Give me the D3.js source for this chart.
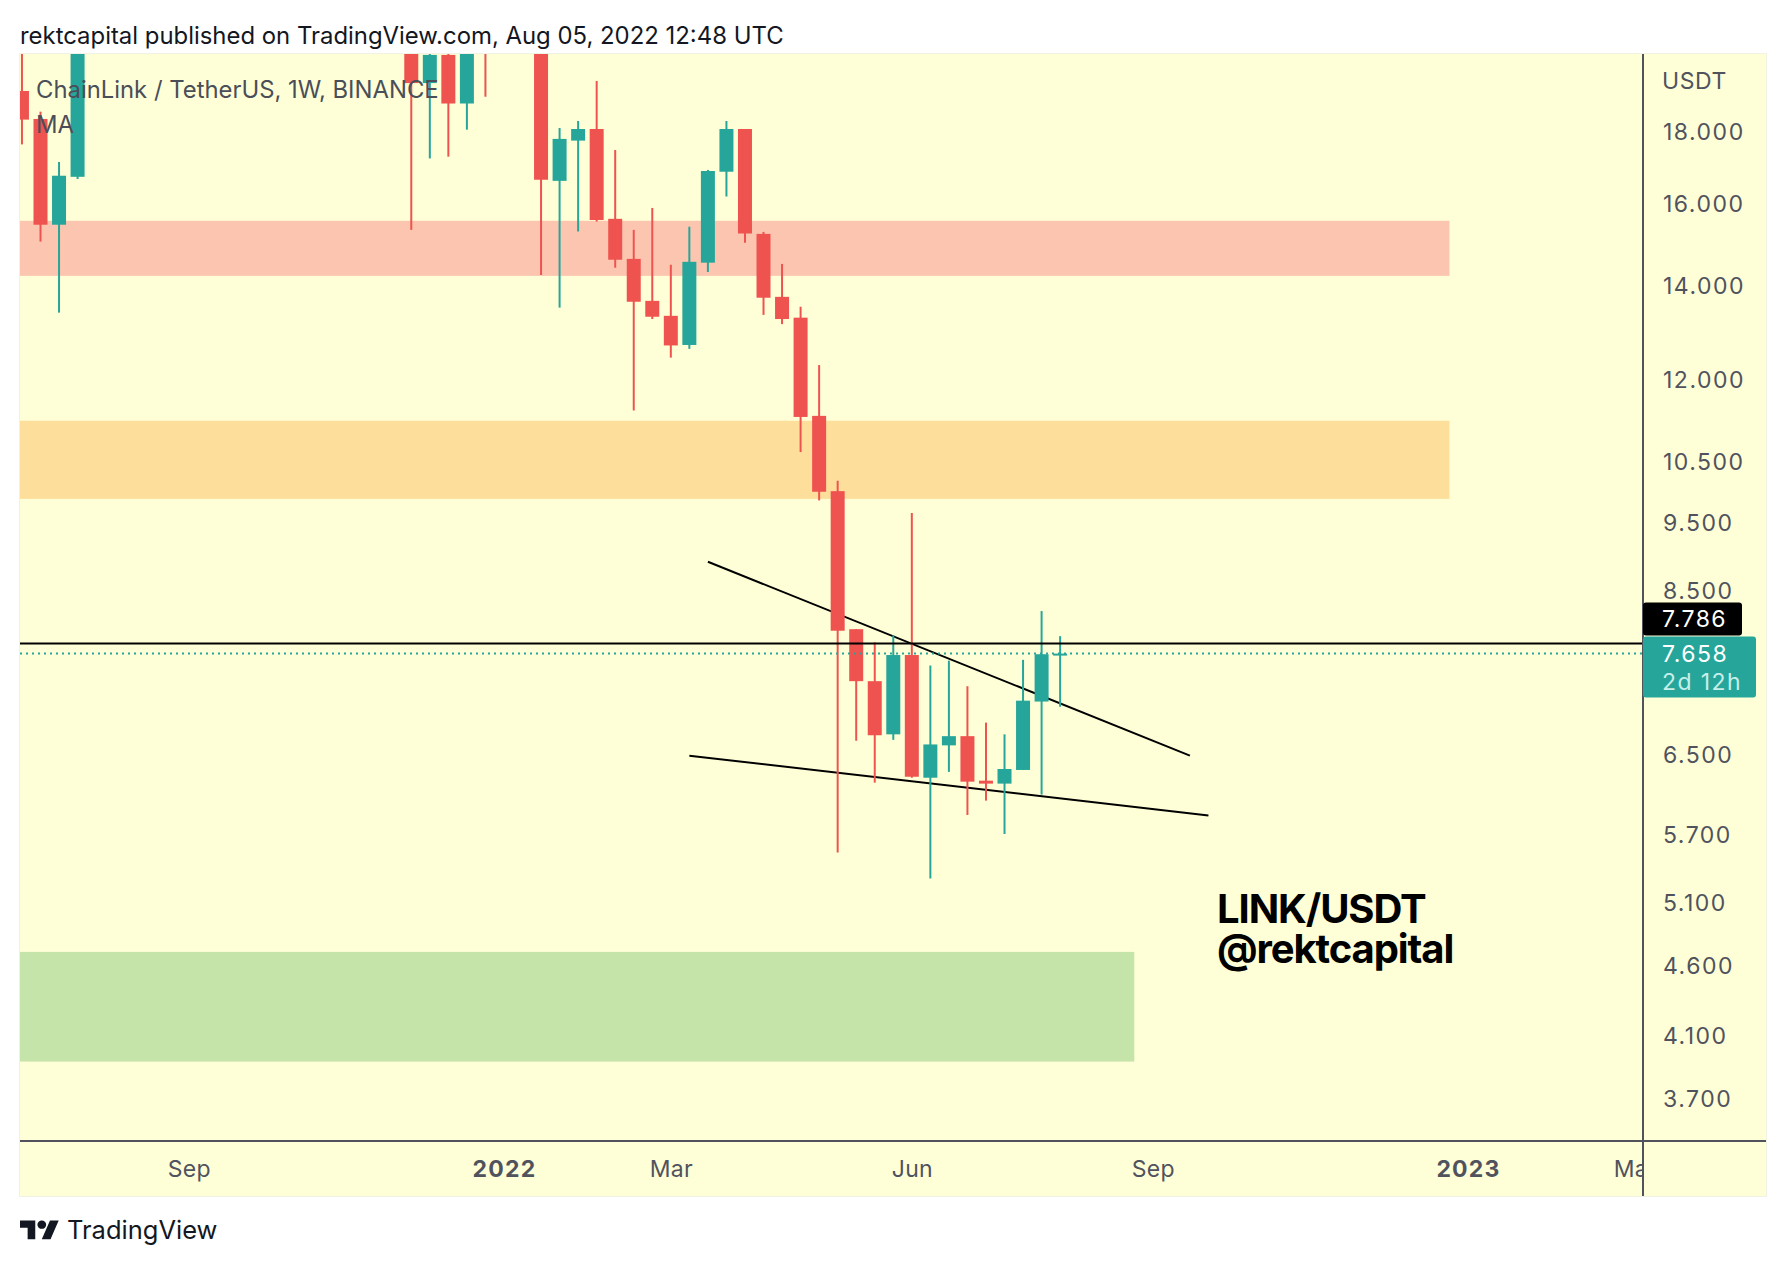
<!DOCTYPE html>
<html>
<head>
<meta charset="utf-8">
<script src="https://cdn.jsdelivr.net/npm/d3@7"></script>
<style>
  body { margin: 0; background: #fff; }
  text { font-family: Inter, "Noto Sans", sans-serif; }
  svg { display: block; }
</style>
</head>
<body>
<svg id="chart" width="1786" height="1266"></svg>
<script>
// weekly candles, only the ones that reach the visible price window
const weeks = ["2021-07-05","2021-07-12","2021-07-19","2021-07-26",
  "2021-11-29","2021-12-06","2021-12-13","2021-12-20","2021-12-27",
  "2022-01-17","2022-01-24","2022-01-31","2022-02-07","2022-02-14","2022-02-21","2022-02-28",
  "2022-03-07","2022-03-14","2022-03-21","2022-03-28","2022-04-04","2022-04-11","2022-04-18","2022-04-25",
  "2022-05-02","2022-05-09","2022-05-16","2022-05-23","2022-05-30","2022-06-06","2022-06-13","2022-06-20","2022-06-27",
  "2022-07-04","2022-07-11","2022-07-18","2022-07-25","2022-08-01"];
const opens = [19.23,18.37,15.45,16.71,
  21,19.48,20.40,18.84,24,
  21,16.60,17.73,18.07,15.60,14.61,13.64,
  13.31,12.69,14.52,16.85,18.07,15.22,13.73,13.27,
  11.30,9.99,7.97,7.32,6.71,7.64,6.25,6.59,6.69,
  6.22,6.19,6.33,7.08,7.645];
const highs = [22,18.59,17.12,23,
  22,20.6,20.5,22,25,
  22,18.10,18.31,19.55,17.46,15.32,15.88,
  14.47,15.40,16.90,18.31,18.07,15.27,14.49,13.51,
  12.28,10.16,7.97,7.80,7.89,9.64,7.51,7.57,7.26,
  6.84,6.71,7.58,8.21,7.88];
const lows = [17.62,15.03,13.38,16.65,
  15.32,17.22,17.27,18.05,19.05,
  14.23,13.49,15.28,15.53,14.40,11.40,13.24,
  12.43,12.61,14.30,16.18,15.00,13.33,13.13,10.65,
  9.84,5.53,6.64,6.20,6.65,6.25,5.30,6.31,5.88,
  6.02,5.70,6.33,6.08,7.02];
const closes = [18.35,15.45,16.74,22,
  19.48,20.40,18.84,21,21.5,
  16.63,17.78,18.07,15.57,14.59,13.62,13.29,
  12.68,14.54,16.87,18.07,15.23,13.71,13.24,11.28,
  9.98,7.95,7.32,6.70,7.64,6.26,6.60,6.69,6.21,
  6.19,6.34,7.09,7.65,7.658];

const priceTicks = [18,16,14,12,10.5,9.5,8.5,6.5,5.7,5.1,4.6,4.1,3.7];
const timeTicks = ["2021-09-06","2022-01-03","2022-03-07","2022-06-06","2022-09-05","2023-01-02","2023-03-06"];
const timeLabels = ["Sep","2022","Mar","Jun","Sep","2023","Mar"];

// zones: price top, price bottom, right end date
const zoneTops = [15.55,11.21,4.70];
const zoneBottoms = [14.21,9.865,3.928];
const zoneEnds = ["2022-12-26","2022-12-26","2022-08-29"];
const zoneColors = ["#fcc5b0","#fddf9b","#c4e4a9"];

// drawn trend lines
const trendDates = [["2022-03-21","2022-09-19"],["2022-03-14","2022-09-26"]];
const trendPrices = [[8.90,6.48],[6.48,5.875]];

const lastClose = 7.658, alertPrice = 7.786;

const up = "#26a69a", down = "#ef5350", bg = "#ffffd7", axisInk = "#50535e";

const plot = { left: 20, right: 1643, top: 54, bottom: 1141, edge: 1766, foot: 1196 };
const parse = d3.utcParse("%Y-%m-%d");

const x = d3.scaleUtc()
  .domain([new Date(Date.UTC(2021, 6, 4, 6, 14)), new Date(Date.UTC(2023, 2, 9, 2))])
  .range([plot.left, plot.right]);
const y = d3.scaleLog()
  .domain([3.449, 20.43])
  .range([plot.bottom, plot.top]);

const svg = d3.select("#chart");

svg.append("text").attr("x", 20).attr("y", 44)
  .attr("font-size", 23.9).attr("fill", "#131722")
  .text("rektcapital published on TradingView.com, Aug 05, 2022 12:48 UTC");

// panel background
svg.append("rect")
  .attr("x", plot.left - 0.5).attr("y", plot.top - 0.5)
  .attr("width", plot.edge - plot.left + 1).attr("height", plot.foot - plot.top + 1)
  .attr("fill", bg).attr("stroke", "#f0f2e4").attr("stroke-width", 1);

const defs = svg.append("defs");
defs.append("clipPath").attr("id", "plot-clip").append("rect")
  .attr("x", plot.left).attr("y", plot.top)
  .attr("width", plot.right - plot.left).attr("height", plot.bottom - plot.top);
defs.append("clipPath").attr("id", "time-clip").append("rect")
  .attr("x", plot.left).attr("y", 0)
  .attr("width", plot.right - plot.left).attr("height", plot.foot - plot.bottom);

const inner = svg.append("g").attr("clip-path", "url(#plot-clip)");

inner.selectAll("rect.zone")
  .data(zoneTops)
  .enter()
  .append("rect")
  .attr("class", "zone")
  .attr("x", plot.left)
  .attr("y", d => y(d))
  .attr("width", (d, i) => x(parse(zoneEnds[i])) - plot.left)
  .attr("height", (d, i) => y(zoneBottoms[i]) - y(d))
  .attr("fill", (d, i) => zoneColors[i]);

const trend = d3.line().x(d => x(parse(d[0]))).y(d => y(d[1]));
trendDates.forEach((dates, i) => {
  inner.append("path")
    .attr("d", trend(d3.zip(dates, trendPrices[i])))
    .attr("fill", "none").attr("stroke", "#000").attr("stroke-width", 2);
});

const candles = weeks.map((w, i) => ({
  date: parse(w), open: opens[i], high: highs[i], low: lows[i], close: closes[i]
}));
const candleColor = d => d.close >= d.open ? up : down;
const barWidth = 14;

inner.selectAll("line.wick")
  .data(candles)
  .enter()
  .append("line")
  .attr("class", "wick")
  .attr("x1", d => x(d.date)).attr("x2", d => x(d.date))
  .attr("y1", d => y(d.high)).attr("y2", d => y(d.low))
  .attr("stroke", candleColor).attr("stroke-width", 2);

inner.selectAll("rect.body")
  .data(candles)
  .enter()
  .append("rect")
  .attr("class", "body")
  .attr("x", d => x(d.date) - barWidth / 2)
  .attr("y", d => y(Math.max(d.open, d.close)))
  .attr("width", barWidth)
  .attr("height", d => Math.max(2, Math.abs(y(d.open) - y(d.close))))
  .attr("fill", candleColor);

// price lines go over the candles
inner.append("line")
  .attr("x1", plot.left).attr("x2", plot.right)
  .attr("y1", y(lastClose)).attr("y2", y(lastClose))
  .attr("stroke", up).attr("stroke-width", 2).attr("stroke-dasharray", "2 4");
inner.append("line")
  .attr("x1", plot.left).attr("x2", plot.right)
  .attr("y1", y(alertPrice)).attr("y2", y(alertPrice))
  .attr("stroke", "#000").attr("stroke-width", 2);

// legend text sits on top of the candles
svg.append("text").attr("x", 36).attr("y", 98)
  .attr("font-size", 23.85).attr("fill", "#4a4e59")
  .text("ChainLink / TetherUS, 1W, BINANCE");
svg.append("text").attr("x", 36).attr("y", 133)
  .attr("font-size", 23.85).attr("fill", "#4a4e59")
  .text("MA");

const note = svg.append("text")
  .attr("font-size", 40).attr("font-weight", 700).attr("fill", "#000")
  .attr("letter-spacing", -1.1);
note.append("tspan").attr("x", 1217).attr("y", 923).text("LINK/USDT");
note.append("tspan").attr("x", 1217).attr("y", 963).text("@rektcapital");

// axes
const yAxis = d3.axisRight(y)
  .tickValues(priceTicks)
  .tickFormat(d3.format(".3f"))
  .tickSize(0)
  .tickPadding(20);
const yAxisG = svg.append("g")
  .attr("transform", `translate(${plot.right},1)`)
  .call(yAxis);
yAxisG.select(".domain").remove();
yAxisG.selectAll("text")
  .attr("font-size", 23).attr("fill", axisInk).attr("letter-spacing", 1.5)
  .style("font-family", "Inter, sans-serif");

const xAxis = d3.axisBottom(x)
  .tickValues(timeTicks.map(parse))
  .tickFormat((d, i) => timeLabels[i])
  .tickSize(0)
  .tickPadding(20);
const xAxisG = svg.append("g")
  .attr("transform", `translate(0,${plot.bottom})`)
  .attr("clip-path", "url(#time-clip)")
  .call(xAxis);
xAxisG.select(".domain").remove();
xAxisG.selectAll("text")
  .attr("font-size", 23).attr("fill", axisInk)
  .attr("dy", "0.71em")
  .attr("font-weight", (d, i) => /^\d+$/.test(timeLabels[i]) ? 700 : 400)
  .attr("letter-spacing", (d, i) => /^\d+$/.test(timeLabels[i]) ? 1.2 : 0.3)
  .style("font-family", "Inter, sans-serif");

svg.append("line")
  .attr("x1", plot.left).attr("x2", plot.edge)
  .attr("y1", plot.bottom).attr("y2", plot.bottom)
  .attr("stroke", axisInk).attr("stroke-width", 2);
svg.append("line")
  .attr("x1", plot.right).attr("x2", plot.right)
  .attr("y1", plot.top).attr("y2", plot.foot)
  .attr("stroke", axisInk).attr("stroke-width", 2);

svg.append("text").attr("x", 1662).attr("y", 89)
  .attr("font-size", 23).attr("fill", axisInk).attr("letter-spacing", 0.6)
  .text("USDT");

// price labels on the scale
svg.append("rect")
  .attr("x", plot.right).attr("y", y(alertPrice) - 41)
  .attr("width", 99).attr("height", 33).attr("rx", 3).attr("fill", "#000");
svg.append("text").attr("x", 1662).attr("y", y(alertPrice) - 16)
  .attr("font-size", 23).attr("fill", "#fff").attr("letter-spacing", 1.5)
  .text(d3.format(".3f")(alertPrice));
svg.append("rect")
  .attr("x", plot.right).attr("y", y(lastClose) - 17)
  .attr("width", 113).attr("height", 61).attr("rx", 3).attr("fill", up);
svg.append("text").attr("x", 1662).attr("y", y(lastClose) + 8)
  .attr("font-size", 23).attr("fill", "#fff").attr("letter-spacing", 1.5)
  .text(d3.format(".3f")(lastClose));
svg.append("text").attr("x", 1662).attr("y", y(lastClose) + 36)
  .attr("font-size", 23).attr("fill", "#c8eeea").attr("letter-spacing", 1.4)
  .text("2d 12h");

// footer logo and name
const logo = svg.append("g")
  .attr("transform", "translate(20,1216.5) scale(1.09,1.03)")
  .attr("fill", "#131722");
logo.append("path").attr("d", "M14 22H7V11H0V4h14v18zM28 22h-8l7.5-18h8L28 22z");
logo.append("circle").attr("cx", 20).attr("cy", 8).attr("r", 4);
svg.append("text").attr("x", 67).attr("y", 1239)
  .attr("font-size", 25.5).attr("fill", "#131722")
  .text("TradingView");
</script>
</body>
</html>
